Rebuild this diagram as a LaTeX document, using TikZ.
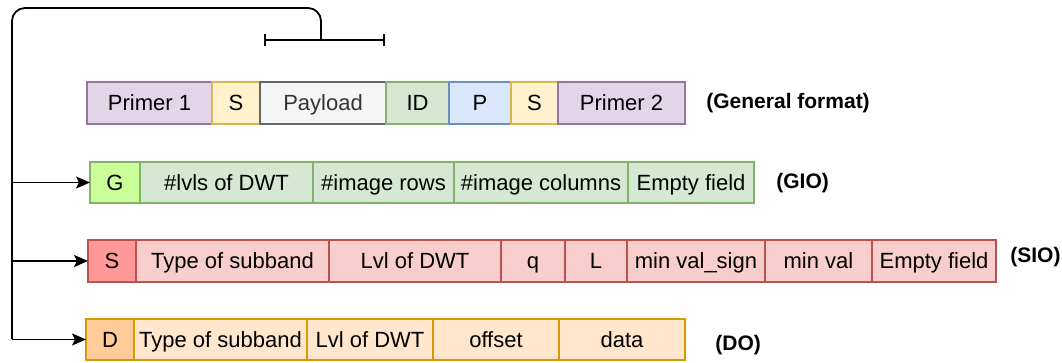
\documentclass[tikz,border=0pt]{standalone}
\usepackage{fontspec}
\setmainfont{Liberation Sans}
\usetikzlibrary{positioning,arrows.meta,calc}

\definecolor{purpleF}{HTML}{E1D5E7}\definecolor{purpleD}{HTML}{9673A6}
\definecolor{yellowF}{HTML}{FFF2CC}\definecolor{yellowD}{HTML}{D6B656}
\definecolor{grayF}{HTML}{F5F5F5}\definecolor{grayD}{HTML}{666666}
\definecolor{grayT}{HTML}{333333}
\definecolor{greenF}{HTML}{D5E8D4}\definecolor{greenD}{HTML}{82B366}
\definecolor{greenG}{HTML}{CCFF99}
\definecolor{blueF}{HTML}{DAE8FC}\definecolor{blueD}{HTML}{6C8EBF}
\definecolor{redF}{HTML}{F8CECC}\definecolor{redD}{HTML}{B85450}
\definecolor{redS}{HTML}{FF9999}
\definecolor{orangeF}{HTML}{FFE6CC}\definecolor{orangeD}{HTML}{D79B00}
\definecolor{orangeO}{HTML}{FFCC99}

\tikzset{
    fld/.style={draw, line width=0.6pt, minimum height=21pt, inner sep=1pt,
        outer sep=0pt, text height=9pt, text depth=1pt,
        font=\fontsize{11}{13}\selectfont},
    prm/.style={fld, fill=purpleF, draw=purpleD},
    sep/.style={fld, fill=yellowF, draw=yellowD},
    pay/.style={fld, fill=grayF, draw=grayD, text=grayT},
    gio/.style={fld, fill=greenF, draw=greenD},
    par/.style={fld, fill=blueF, draw=blueD},
    sio/.style={fld, fill=redF, draw=redD},
    dob/.style={fld, fill=orangeF, draw=orangeD},
    tag/.style={anchor=west, inner sep=0pt, font=\fontsize{10.5}{12}\selectfont\bfseries},
    wire/.style={line width=0.9pt}
}

\begin{document}
\begin{tikzpicture}[x=0.5pt, y=-0.5pt, >={Stealth[length=7pt,width=6pt,inset=1.5pt]}]
    \useasboundingbox (0,0) rectangle (1062,363);

    % general format
    \node[prm, anchor=west, minimum width=62.5pt] (pr1) at (87,103) {Primer 1};
    \node[sep, right=0pt of pr1, minimum width=24pt] (s1) {S};
    \node[pay, right=0pt of s1, minimum width=63pt] (pay) {Payload};
    \node[gio, right=0pt of pay, minimum width=31.5pt] (id) {ID};
    \node[par, right=0pt of id, minimum width=31pt] (p) {P};
    \node[sep, right=0pt of p, minimum width=23.5pt] (s2) {S};
    \node[prm, right=0pt of s2, minimum width=63.5pt] (pr2) {Primer 2};
    \node[tag] (lgen) at (706,103) {(General format)};

    % GIO
    \node[gio, fill=greenG, anchor=west, minimum width=25pt, minimum height=20.5pt] (g) at (90,182.5) {G};
    \node[gio, right=0pt of g, minimum width=86.5pt, minimum height=20.5pt] (glvl) {\#lvls of DWT};
    \node[gio, right=0pt of glvl, minimum width=70.5pt, minimum height=20.5pt] (grow) {\#image rows};
    \node[gio, right=0pt of grow, minimum width=87pt, minimum height=20.5pt] (gcol) {\#image columns};
    \node[gio, right=0pt of gcol, minimum width=63pt, minimum height=20.5pt] (gemp) {Empty field};
    \node[tag] (lgio) at (776,183) {(GIO)};

    % SIO
    \node[sio, fill=redS, anchor=west, minimum width=24pt] (s) at (88,261) {S};
    \node[sio, right=0pt of s, minimum width=96.5pt] (stype) {Type of subband};
    \node[sio, right=0pt of stype, minimum width=86pt] (slvl) {Lvl of DWT};
    \node[sio, right=0pt of slvl, minimum width=32pt] (sq) {q};
    \node[sio, right=0pt of sq, minimum width=31pt] (sl) {L};
    \node[sio, right=0pt of sl, minimum width=69pt] (ssign) {min val\_sign};
    \node[sio, right=0pt of ssign, minimum width=53.5pt] (smin) {min val};
    \node[sio, right=0pt of smin, minimum width=62pt] (semp) {Empty field};
    \node[tag] (lsio) at (1010,257) {(SIO)};

    % DO
    \node[dob, fill=orangeO, anchor=west, minimum width=24pt, minimum height=20.5pt] (d) at (86,339.5) {D};
    \node[dob, right=0pt of d, minimum width=86.5pt, minimum height=20.5pt] (dtype) {Type of subband};
    \node[dob, right=0pt of dtype, minimum width=63pt, minimum height=20.5pt] (dlvl) {Lvl of DWT};
    \node[dob, right=0pt of dlvl, minimum width=63pt, minimum height=20.5pt] (doff) {offset};
    \node[dob, right=0pt of doff, minimum width=63pt, minimum height=20.5pt] (ddat) {data};
    \node[tag] (ldo) at (715,345) {(DO)};

    % payload bracket and feed line
    \coordinate (bl) at (265,40);
    \coordinate (br) at (384,40);
    \coordinate (bm) at (321,40);
    \coordinate (top) at (12,8);
    \draw[line width=0.7pt] (bl) -- (br);
    \draw[line width=0.7pt] ($(bl)+(0,-6)$) -- ($(bl)+(0,6)$);
    \draw[line width=0.7pt] ($(br)+(0,-6)$) -- ($(br)+(0,6)$);
    \draw[wire, rounded corners=6.5pt] (bm) |- (top) -- (12,40);
    \draw[wire] (12,30) -- (12,339.5);
    \draw[wire, ->] (12,182.5) -- (g.west);
    \draw[wire, ->] (12,261) -- (s.west);
    \draw[wire, ->] (12,339.5) -- (d.west);
\end{tikzpicture}
\end{document}
